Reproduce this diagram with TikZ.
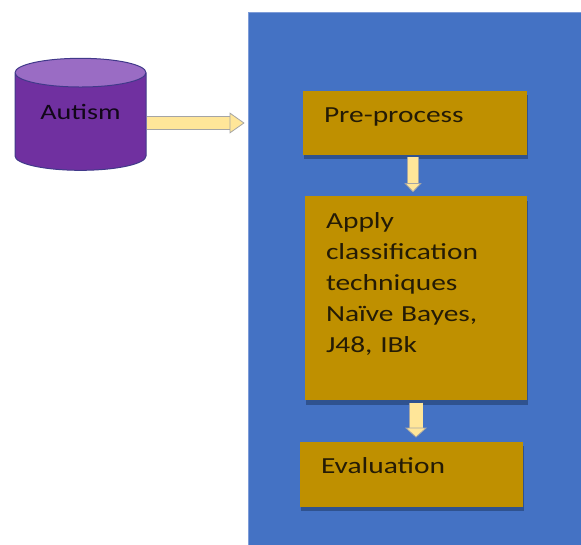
\documentclass[tikz,border=0pt]{standalone}
\usepackage{fontspec}
\setmainfont{Carlito}[FakeStretch=1.28]
\usetikzlibrary{arrows.meta,positioning,shapes.geometric,shadows,calc}
\definecolor{panelblue}{HTML}{4472C4}
\definecolor{paneledge}{HTML}{7E9CD8}
\definecolor{stagegold}{HTML}{BF9000}
\definecolor{shadeblue}{HTML}{2F528F}
\definecolor{dbbody}{HTML}{7030A0}
\definecolor{dbtop}{HTML}{9A6CC4}
\definecolor{dbedge}{HTML}{41398A}
\definecolor{arrowfill}{HTML}{FFE699}
\definecolor{arrowedge}{HTML}{A5A5A5}
\definecolor{ink}{HTML}{241B06}

\begin{document}
\begin{tikzpicture}[x=1pt,y=-1pt,
  stagebox/.style={fill=stagegold,text=ink,align=left,inner xsep=21pt,inner ysep=0pt,
    text height=32pt,font=\fontsize{23}{31}\selectfont,
    drop shadow={shadow xshift=1pt,shadow yshift=-4.5pt,fill=shadeblue,opacity=1}},
  blockarrow/.style n args={3}{draw=arrowfill,line width=#1,
    -{Triangle[length=#3,width=#2,fill=arrowfill,color=arrowedge,line width=.8pt]},
    preaction={draw=arrowedge,line width=#1+1.6pt,-,shorten >=#3-1pt}}]
\useasboundingbox[fill=white] (0,0) rectangle (581,545);

% blue work area on the right
\node[fill=panelblue,draw=paneledge,line width=.8pt,minimum width=333pt,minimum height=533pt] (flow) at (414.5,278.5) {};

% data set
\node[cylinder,shape border rotate=90,aspect=.33,draw=dbedge,line width=1pt,
  cylinder uses custom fill,cylinder body fill=dbbody,cylinder end fill=dbtop,
  minimum width=131pt,minimum height=112pt,text=black!85!dbbody,text depth=24pt,
  font=\fontsize{22}{26}\selectfont] (data) at (80.5,124) {Autism};

% steps
\node[stagebox,text width=182pt,text depth=32pt] (pre) at (415,123) {Pre-process};
\node[stagebox,text width=180pt,text depth=172pt,below=41pt of pre,xshift=1pt] (apply)
  {Apply\\classification\\techniques\\Naïve Bayes,\\J48, IBk};
\node[stagebox,text width=181pt,text depth=33pt,below=41pt of apply,xshift=-4.5pt] (eval) {Evaluation};

\coordinate (feed) at ($(data.east -| flow.west)+(-3,-1)$);
\coordinate (pre-end) at ($(pre.south |- apply.north)+(-2,-4)$);
\coordinate (apply-end) at ($(apply.south |- eval.north)+(0,-4)$);

\draw[blockarrow={12pt}{21pt}{15pt}] ([yshift=1pt]data.east) -- (feed);
\draw[blockarrow={10pt}{17pt}{9pt}] ([xshift=-2pt,yshift=-2pt]pre.south) -- (pre-end);
\draw[blockarrow={13pt}{22pt}{10pt}] ([yshift=-2pt]apply.south) -- (apply-end);
\end{tikzpicture}
\end{document}
